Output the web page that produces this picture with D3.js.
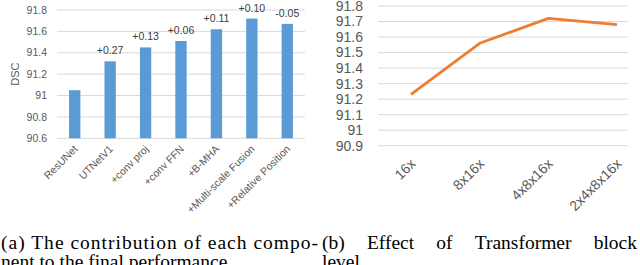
<!DOCTYPE html>
<html>
<head>
<meta charset="utf-8">
<script src="https://cdn.jsdelivr.net/npm/d3@7"></script>
<style>
  body { margin: 0; background: #fff; }
  svg { display: block; }
</style>
</head>
<body>
<div id="chart"></div>
<script>
// left panel: component contributions
var components = ["ResUNet", "UTNetV1", "+conv proj", "+conv FFN", "+B-MHA", "+Multi-scale Fusion", "+Relative Position"];
var dscValues = [91.05, 91.32, 91.45, 91.51, 91.62, 91.72, 91.67];
var deltas = ["", "+0.27", "+0.13", "+0.06", "+0.11", "+0.10", "-0.05"];
var leftTicks = [90.6, 90.8, 91, 91.2, 91.4, 91.6, 91.8];

// right panel: transformer block level
var levels = ["16x", "8x16x", "4x8x16x", "2x4x8x16x"];
var levelValues = [91.23, 91.56, 91.72, 91.68];
var rightTicks = [90.9, 91, 91.1, 91.2, 91.3, 91.4, 91.5, 91.6, 91.7, 91.8];

var width = 640, height = 265;
var svg = d3.select("#chart").append("svg")
  .attr("width", width)
  .attr("height", height);

var sansFont = "'Liberation Sans', Arial, sans-serif";
var serifFont = "'Liberation Serif', 'Times New Roman', serif";

//Left bar chart
var xBand = d3.scaleBand()
  .domain(components)
  .range([57, 305])
  .paddingInner(0.68)
  .paddingOuter(0.34);

var yLeft = d3.scaleLinear()
  .domain([90.6, 91.8])
  .range([138.3, 10]);

var left = svg.append("g");

left.selectAll(".grid")
  .data(leftTicks)
  .enter().append("line")
  .attr("x1", 57).attr("x2", 305)
  .attr("y1", d => yLeft(d)).attr("y2", d => yLeft(d))
  .attr("stroke", "#d9d9d9")
  .attr("stroke-width", 1);

left.selectAll(".tick-label")
  .data(leftTicks)
  .enter().append("text")
  .attr("x", 47)
  .attr("y", d => yLeft(d))
  .attr("dy", "0.35em")
  .attr("text-anchor", "end")
  .attr("font-family", sansFont)
  .attr("font-size", "10.5px")
  .attr("fill", "#595959")
  .text(d => d);

left.selectAll(".bar")
  .data(components)
  .enter().append("rect")
  .attr("x", d => xBand(d))
  .attr("width", xBand.bandwidth())
  .attr("y", (d, i) => yLeft(dscValues[i]))
  .attr("height", (d, i) => yLeft(90.6) - yLeft(dscValues[i]))
  .attr("fill", "#5b9bd5");

left.selectAll(".delta")
  .data(components)
  .enter().append("text")
  .attr("x", d => xBand(d) + xBand.bandwidth() / 2)
  .attr("y", (d, i) => yLeft(dscValues[i]) - 7)
  .attr("text-anchor", "middle")
  .attr("font-family", sansFont)
  .attr("font-size", "10.5px")
  .attr("fill", "#404040")
  .text((d, i) => deltas[i]);

left.selectAll(".xlabel")
  .data(components)
  .enter().append("text")
  .attr("transform", d => "translate(" + (xBand(d) + xBand.bandwidth() / 2 + 1) + ",147) rotate(-45)")
  .attr("dy", "0.35em")
  .attr("text-anchor", "end")
  .attr("font-family", sansFont)
  .attr("font-size", "10.5px")
  .attr("fill", "#595959")
  .text(d => d);

left.append("text")
  .attr("transform", "translate(15," + yLeft(91.2) + ") rotate(-90)")
  .attr("dy", "0.35em")
  .attr("text-anchor", "middle")
  .attr("font-family", sansFont)
  .attr("font-size", "11px")
  .attr("fill", "#595959")
  .text("DSC");

//Right line chart
var xPoint = d3.scalePoint()
  .domain(levels)
  .range([411, 617]);

var yRight = d3.scaleLinear()
  .domain([90.9, 91.8])
  .range([145.7, 6]);

var right = svg.append("g");

right.selectAll(".grid")
  .data(rightTicks)
  .enter().append("line")
  .attr("x1", 378).attr("x2", 628)
  .attr("y1", d => yRight(d)).attr("y2", d => yRight(d))
  .attr("stroke", "#d9d9d9")
  .attr("stroke-width", 1);

right.selectAll(".tick-label")
  .data(rightTicks)
  .enter().append("text")
  .attr("x", 363)
  .attr("y", d => yRight(d))
  .attr("dy", "0.35em")
  .attr("text-anchor", "end")
  .attr("font-family", sansFont)
  .attr("font-size", "14px")
  .attr("fill", "#595959")
  .text(d => d);

var line = d3.line()
  .x((d, i) => xPoint(levels[i]))
  .y(d => yRight(d));

right.append("path")
  .datum(levelValues)
  .attr("d", line)
  .attr("fill", "none")
  .attr("stroke", "#ed7d31")
  .attr("stroke-width", 2.8)
  .attr("stroke-linejoin", "round");

right.selectAll(".xlabel")
  .data(levels)
  .enter().append("text")
  .attr("transform", d => "translate(" + (xPoint(d) + 2) + ",161) rotate(-45)")
  .attr("dy", "0.35em")
  .attr("text-anchor", "end")
  .attr("font-family", sansFont)
  .attr("font-size", "14px")
  .attr("fill", "#595959")
  .text(d => d);

//Captions
var line1 = svg.append("text")
  .attr("x", 1).attr("y", 248.5)
  .attr("font-family", serifFont)
  .attr("font-size", "18px")
  .attr("fill", "#000")
  .text("(a) The contribution of each compo-");

// scale the caption font so the first line spans the left column
var capSize = Math.min(19.5, 18 * 317 / line1.node().getComputedTextLength());
line1.attr("font-size", capSize + "px")
  .attr("textLength", 317)
  .attr("lengthAdjust", "spacing");

svg.append("text")
  .attr("x", 1).attr("y", 268)
  .attr("font-family", serifFont)
  .attr("font-size", capSize + "px")
  .attr("fill", "#000")
  .text("nent to the final performance");

// justified words for caption (b)
var capWords = ["(b)", "Effect", "of", "Transformer", "block"];
var wordEls = svg.selectAll(".capword")
  .data(capWords)
  .enter().append("text")
  .attr("y", 248.5)
  .attr("font-family", serifFont)
  .attr("font-size", capSize + "px")
  .attr("fill", "#000")
  .text(d => d);

var widths = [];
wordEls.each(function () { widths.push(this.getComputedTextLength()); });
var startX = 322, endX = 637;
var gap = (endX - startX - d3.sum(widths)) / (capWords.length - 1);
var cx = startX;
wordEls.each(function (d, i) {
  d3.select(this).attr("x", cx);
  cx += widths[i] + gap;
});

svg.append("text")
  .attr("x", 322).attr("y", 268)
  .attr("font-family", serifFont)
  .attr("font-size", capSize + "px")
  .attr("fill", "#000")
  .text("level");
</script>
</body>
</html>
